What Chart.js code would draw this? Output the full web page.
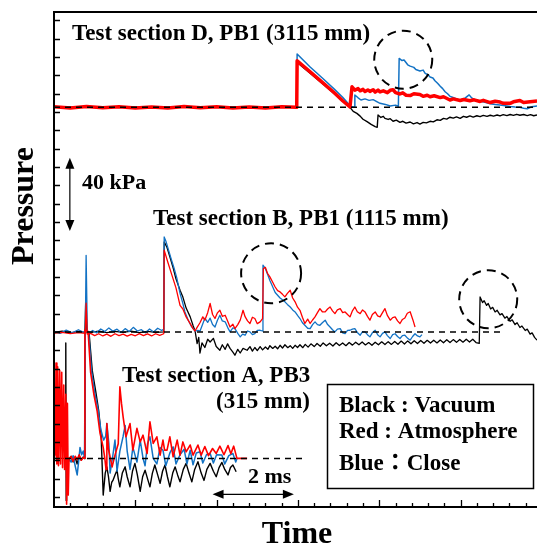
<!DOCTYPE html>
<html>
<head>
<meta charset="utf-8">
<script src="https://cdn.jsdelivr.net/npm/chart.js@4"></script>
<style>
  html, body { margin: 0; padding: 0; background: #fff; overflow: hidden; }
  canvas { display: block; }
</style>
</head>
<body>
<canvas id="pressureChart" width="537" height="546"></canvas>
<script>
// pressure traces, [time (ms), pressure rise (kPa)] relative to each section's baseline

// Test section D, PB1 (3115 mm)
const dRed = [
  [0, 0.3], [0.4, -0.3], [0.8, 0.4], [1.2, -0.2], [1.6, 0.3], [2.0, -0.4], [2.4, 0.2], [2.8, -0.3],
  [3.2, 0.4], [3.6, -0.2], [4.0, 0.3], [4.4, -0.3], [4.8, 0.2], [5.2, -0.4], [5.6, 0.3], [5.97, 0],
  [5.98, 25.4], [6.3, 19.3], [6.6, 13.6], [6.9, 7.8], [7.1, 3.6], [7.28, 0.2],
  [7.33, 11.2], [7.40, 9.4], [7.48, 10.2], [7.53, 9.0], [7.60, 9.8], [7.65, 8.6], [7.72, 9.5], [7.77, 8.7],
  [7.85, 9.6], [7.90, 8.3], [7.97, 9.4], [8.02, 8.4], [8.10, 9.0], [8.20, 8.0], [8.27, 9.3], [8.34, 9.6],
  [8.40, 8.0], [8.51, 7.3], [8.58, 7.9], [8.66, 6.6], [8.76, 6.4], [8.85, 7.4], [9.00, 7.0], [9.08, 6.0],
  [9.18, 6.6], [9.25, 5.8], [9.35, 6.3], [9.50, 5.3], [9.58, 5.8], [9.74, 4.0], [9.82, 4.6], [9.99, 3.7],
  [10.08, 4.3], [10.23, 3.6], [10.33, 4.1], [10.48, 3.2], [10.56, 3.8], [10.73, 2.6], [10.85, 3.3],
  [10.97, 2.9], [11.05, 2.2], [11.22, 2.2], [11.30, 3.0], [11.46, 3.7], [11.55, 2.6], [11.71, 3.1], [11.88, 3.4]
];
const dBlue = [
  [0, 0], [5.97, 0.2], [5.98, 29.1], [6.3, 22.0], [6.6, 16.0], [6.9, 9.8], [7.1, 5.5], [7.30, 0.5], [7.38, 0],
  [7.40, 6.7], [7.48, 5.2], [7.55, 4.0], [7.65, 4.6], [7.75, 3.8], [7.85, 4.2], [7.95, 3.0], [8.02, 2.2],
  [8.15, 1.6], [8.27, 0.7], [8.40, 1.2], [8.47, 0.6],
  [8.49, 26.7], [8.56, 25.5], [8.61, 25.8], [8.70, 23.2], [8.76, 22.5], [8.85, 21.8], [8.90, 20.6],
  [9.00, 19.8], [9.08, 20.3], [9.13, 18.5], [9.20, 17.8], [9.25, 16.5], [9.32, 16.0], [9.37, 14.5],
  [9.44, 13.0], [9.50, 11.5], [9.56, 10.2], [9.62, 8.5], [9.68, 7.4], [9.74, 6.0], [9.80, 5.5], [9.86, 5.0],
  [9.92, 4.4], [9.99, 3.8], [10.05, 4.6], [10.11, 5.0], [10.21, 6.8], [10.26, 5.5], [10.31, 4.5],
  [10.40, 3.9], [10.48, 3.3], [10.60, 2.7], [10.73, 2.0], [10.85, 1.6], [10.97, 1.3], [11.10, 0.9],
  [11.22, 0.5], [11.34, 0.2], [11.46, 0], [11.55, -0.5], [11.64, -0.8], [11.75, 0.3], [11.88, 0.8]
];
const dBlack = [
  [0, 0], [5.97, 0], [5.98, 24.5], [6.3, 18.6], [6.6, 13.0], [6.9, 7.3], [7.1, 3.3], [7.28, 0],
  [7.36, -2.2], [7.45, -3.3], [7.53, -4.8], [7.60, -6.5], [7.70, -7.8], [7.80, -9.3], [7.90, -10.5],
  [7.95, -10.9], [7.97, -4.2], [8.04, -5.5], [8.10, -4.9], [8.14, -6.0], [8.22, -6.6], [8.27, -6.2],
  [8.34, -7.6], [8.42, -7.0], [8.51, -8.2], [8.58, -7.6], [8.66, -8.6], [8.76, -8.0], [8.84, -9.0],
  [8.93, -8.3], [9.00, -9.1], [9.08, -8.2], [9.16, -8.5], [9.25, -7.6], [9.33, -7.9], [9.42, -6.8],
  [9.50, -7.1], [9.58, -6.0], [9.66, -6.4], [9.74, -5.4], [9.82, -5.9], [9.90, -5.2], [9.99, -6.0],
  [10.07, -4.9], [10.15, -5.4], [10.23, -4.7], [10.31, -5.3], [10.40, -4.6], [10.48, -5.1], [10.56, -4.4],
  [10.65, -4.9], [10.73, -4.3], [10.81, -4.8], [10.90, -4.2], [10.97, -4.7], [11.05, -4.0], [11.14, -4.5],
  [11.22, -3.9], [11.30, -4.4], [11.38, -3.8], [11.46, -4.3], [11.55, -3.9], [11.64, -4.5], [11.72, -4.0],
  [11.80, -4.6], [11.88, -4.2]
];

// Test section B, PB1 (1115 mm)
const bRed = [
  [0, -0.7], [0.2, -0.3], [0.4, -0.9], [0.6, -0.4], [0.77, -0.8], [0.79, 15.7], [0.82, -1.2],
  [0.9, -0.8], [1.0, -2.0], [1.1, -1.0], [1.2, -2.2], [1.3, -1.2], [1.4, -2.4], [1.5, -1.0], [1.6, -2.0],
  [1.7, -1.2], [1.8, -2.3], [1.9, -1.3], [2.0, -2.1], [2.1, -0.9], [2.2, -2.0], [2.3, -1.1], [2.4, -2.2],
  [2.5, -1.0], [2.6, -1.9], [2.70, -1.0],
  [2.71, 44.6], [2.80, 38], [2.90, 31], [3.00, 24], [3.10, 14.5], [3.17, 12.5], [3.25, 8.2], [3.35, 4.5],
  [3.42, 1.8], [3.47, 0.5], [3.52, 2.5], [3.59, 5.0], [3.66, 8.2], [3.71, 6.4], [3.78, 10.5], [3.84, 15.5],
  [3.90, 9.5], [3.96, 7.3], [4.02, 10.4], [4.08, 11.8], [4.14, 8.5], [4.21, 9.1], [4.27, 6.0], [4.33, 2.7],
  [4.40, 4.2], [4.45, 1.8], [4.52, 4.0], [4.58, 6.4], [4.65, 11.8], [4.70, 8.3], [4.76, 6.0], [4.82, 4.6],
  [4.88, 8.0], [4.94, 7.3], [5.00, 4.5], [5.07, 5.5], [5.13, 7.3],
  [5.15, 34.6], [5.20, 35.2], [5.25, 32.0], [5.31, 30.0], [5.37, 27.5], [5.44, 24.5], [5.50, 22.5],
  [5.56, 21.8], [5.62, 20.5], [5.68, 19.1], [5.74, 21.0], [5.81, 22.7], [5.87, 18.5], [5.93, 16.4],
  [5.99, 13.5], [6.05, 11.8], [6.11, 8.0], [6.17, 4.6], [6.24, 7.0], [6.30, 4.6], [6.36, 6.5], [6.42, 8.2],
  [6.48, 10.5], [6.54, 12.7], [6.60, 11.0], [6.67, 10.9], [6.73, 12.5], [6.79, 13.6], [6.85, 11.5],
  [6.91, 10.0], [6.97, 12.0], [7.04, 12.7], [7.10, 10.5], [7.16, 10.9], [7.22, 9.5], [7.28, 8.2],
  [7.34, 11.5], [7.40, 13.6], [7.46, 11.0], [7.53, 10.0], [7.59, 12.0], [7.65, 10.9], [7.71, 8.5],
  [7.77, 6.4], [7.83, 9.5], [7.90, 10.9], [7.96, 8.8], [8.02, 8.2], [8.08, 10.5], [8.14, 12.7], [8.20, 9.0],
  [8.27, 6.4], [8.33, 7.8], [8.39, 8.2], [8.45, 6.0], [8.51, 4.6], [8.57, 6.8], [8.63, 7.6], [8.69, 10.2],
  [8.76, 11.0], [8.83, 6.4], [8.88, 2.7]
];
const bBlue = [
  [0, 0.3], [0.15, -0.8], [0.3, 1.0], [0.45, -0.5], [0.6, 1.2], [0.74, -0.3], [0.77, 0.5], [0.79, 41.8],
  [0.82, 0], [0.84, -1.0], [0.95, 0.8], [1.05, -0.5], [1.15, 1.6], [1.25, 0.2], [1.35, 2.2], [1.45, 0.4],
  [1.55, 1.5], [1.65, -0.3], [1.75, 1.8], [1.85, 0.2], [1.95, 2.5], [2.05, 0.5], [2.15, 1.2], [2.25, -0.5],
  [2.35, 1.6], [2.45, 0], [2.55, 2.0], [2.65, 0.8], [2.70, 1.5],
  [2.71, 51.8], [2.76, 49.0], [2.82, 44.5], [2.88, 40.0], [2.95, 35.0], [3.02, 29.5], [3.10, 21.0],
  [3.17, 15.5], [3.22, 10.9], [3.30, 6.5], [3.38, 3.0], [3.47, 0.4], [3.54, 0.8], [3.59, 0.4], [3.66, 4.5],
  [3.71, 7.5], [3.78, 5.2], [3.84, 7.5], [3.90, 4.0], [3.96, 2.7], [4.02, 6.4], [4.08, 9.1], [4.14, 6.0],
  [4.21, 5.5], [4.27, 2.5], [4.33, 0], [4.40, 2.2], [4.45, 1.8], [4.52, -0.8], [4.58, -2.7], [4.64, -1.2],
  [4.70, -1.8], [4.76, 0.5], [4.82, 0], [4.88, -1.5], [4.94, -0.9], [5.00, 0.8], [5.07, 0.9], [5.13, 0.5],
  [5.14, 36.4], [5.20, 34.5], [5.26, 31.0], [5.31, 28.0], [5.37, 25.0], [5.44, 21.5], [5.50, 20.0],
  [5.56, 18.5], [5.62, 17.5], [5.68, 16.4], [5.74, 15.0], [5.81, 13.6], [5.87, 12.0], [5.93, 10.9],
  [5.99, 9.0], [6.05, 7.3], [6.11, 5.0], [6.17, 3.6], [6.24, 2.0], [6.30, 1.8], [6.36, 4.0], [6.42, 5.5],
  [6.48, 4.0], [6.54, 3.6], [6.60, 5.0], [6.67, 6.4], [6.73, 4.0], [6.79, 2.7], [6.85, 1.2], [6.91, 0],
  [6.97, 1.5], [7.04, 1.8], [7.10, -0.5], [7.16, -0.9], [7.22, 0.8], [7.28, 0.9], [7.34, 1.5], [7.40, 1.8],
  [7.46, -0.3], [7.53, -1.8], [7.59, 0.2], [7.65, 0], [7.71, -1.5], [7.77, -2.7], [7.83, -0.5], [7.90, 0.9],
  [7.96, -1.5], [8.02, -2.7], [8.08, -0.8], [8.14, 0], [8.20, -2.0], [8.27, -3.6], [8.33, -1.5], [8.39, -1.0],
  [8.45, -2.5], [8.51, -3.6], [8.57, -2.0], [8.63, -1.8], [8.70, -3.5], [8.76, -4.5], [8.82, -2.5],
  [8.88, -1.0], [8.94, -2.2], [9.00, -2.7], [9.05, -1.5]
];
const bBlack = [
  [0, -0.3], [0.2, 0.4], [0.4, -0.5], [0.6, 0.3], [0.76, -0.2], [0.78, 17], [0.81, -0.5], [0.9, -0.2],
  [1.1, 0.4], [1.3, -0.4], [1.5, 0.3], [1.7, -0.3], [1.9, 0.4], [2.1, -0.4], [2.3, 0.3], [2.5, -0.3], [2.70, 0],
  [2.71, 49.1], [2.78, 46], [2.85, 41], [2.93, 35], [3.00, 29], [3.10, 22.7], [3.17, 19.0], [3.25, 13.0],
  [3.35, 8.2], [3.42, 3.5], [3.47, 0.5], [3.52, -6.4], [3.56, -3.0], [3.59, -11.6], [3.64, -6.0],
  [3.71, -8.5], [3.78, -4.0], [3.84, -5.5], [3.92, -3.5], [3.99, -8.0], [4.08, -10.0], [4.14, -7.0],
  [4.21, -9.5], [4.27, -6.5], [4.33, -9.0], [4.40, -11.0], [4.45, -12.7], [4.52, -9.5], [4.58, -11.5],
  [4.65, -9.0], [4.75, -10.0], [4.82, -8.0], [4.88, -10.5], [4.94, -8.5], [5.00, -10.2], [5.07, -8.0],
  [5.13, -9.8], [5.20, -8.2], [5.26, -9.5], [5.31, -7.5], [5.38, -9.0], [5.44, -7.8], [5.50, -9.2],
  [5.56, -7.3], [5.62, -8.8], [5.68, -7.0], [5.75, -8.6], [5.81, -7.5], [5.87, -9.0], [5.93, -7.3],
  [5.99, -8.5], [6.05, -7.0], [6.12, -8.6], [6.18, -6.8], [6.25, -8.3], [6.32, -6.5], [6.40, -8.0],
  [6.47, -6.3], [6.55, -7.8], [6.62, -6.0], [6.70, -7.6], [6.78, -6.2], [6.86, -7.7], [6.94, -5.9],
  [7.02, -7.4], [7.10, -6.0], [7.18, -7.5], [7.26, -5.8], [7.34, -7.2], [7.42, -5.6], [7.50, -7.0],
  [7.58, -5.5], [7.66, -7.1], [7.74, -5.8], [7.82, -7.3], [7.90, -5.6], [7.98, -7.0], [8.06, -5.4],
  [8.14, -6.9], [8.22, -5.3], [8.30, -6.8], [8.38, -5.2], [8.46, -6.7], [8.54, -5.0], [8.62, -6.6],
  [8.70, -4.9], [8.78, -6.5], [8.86, -4.8], [8.94, -6.3], [9.02, -4.7], [9.10, -6.2], [9.18, -4.6],
  [9.26, -6.1], [9.34, -4.5], [9.42, -6.0], [9.50, -4.4], [9.58, -5.9], [9.66, -4.3], [9.74, -5.8],
  [9.82, -4.2], [9.90, -5.7], [9.98, -4.1], [10.06, -5.6], [10.14, -4.0], [10.22, -5.5], [10.30, -4.0],
  [10.38, -5.8], [10.46, -6.2],
  [10.48, 19.1], [10.54, 16.0], [10.58, 17.0], [10.64, 14.5], [10.68, 15.5], [10.74, 12.5], [10.79, 13.4],
  [10.85, 10.9], [10.90, 11.8], [10.97, 9.3], [11.02, 10.0], [11.09, 7.5], [11.14, 8.4], [11.22, 5.8],
  [11.27, 6.6], [11.34, 4.0], [11.39, 5.0], [11.46, 2.4], [11.51, 3.2], [11.59, 0.8], [11.64, 1.5],
  [11.71, -1.2], [11.76, -0.5], [11.82, -3.0], [11.88, -4.5]
];

// Test section A, PB3 (315 mm)
const aRed = [
  [0, 0], [0.03, 2], [0.05, 52], [0.07, -3], [0.09, 50], [0.11, -4], [0.14, 48], [0.16, -3], [0.19, 47],
  [0.21, -5], [0.24, 40], [0.26, -6], [0.29, 35], [0.31, -25], [0.33, 30], [0.35, -20], [0.37, 0],
  [0.42, 1.0], [0.47, -1.5], [0.52, 1.2], [0.57, -0.5], [0.62, 2.0], [0.67, -1.0], [0.72, 0.5], [0.75, 0],
  [0.76, 70], [0.84, 69], [0.90, 47], [0.98, 35], [1.06, 26], [1.13, 14], [1.21, 6], [1.25, 0], [1.28, -6],
  [1.30, 19], [1.34, 5], [1.43, -4.6], [1.50, 1.8], [1.58, 8], [1.62, 39], [1.66, 30], [1.70, 22.7],
  [1.77, 11.8], [1.87, 19], [1.94, 4.5], [2.04, 16.4], [2.12, 9], [2.19, 12.7], [2.29, 2.7], [2.36, 20],
  [2.44, 8.2], [2.53, 11.8], [2.61, 1.8], [2.68, 10], [2.72, 4.5], [2.78, 4.5], [2.85, 11.8], [2.93, 0.9],
  [3.03, 10], [3.10, 1.8], [3.17, 9], [3.25, 3.6], [3.35, 7.3], [3.42, 1.8], [3.54, 7.3], [3.62, 1.8],
  [3.71, 6.5], [3.80, 1.5], [3.90, 5.4], [3.99, 2.7], [4.08, 6.7], [4.18, 2.0], [4.28, 7.0], [4.35, 2.5],
  [4.42, 6.7], [4.50, 0], [4.75, 0]
];
const aBlue = [
  [0.35, 0], [0.42, -2], [0.47, 1.5], [0.52, -4], [0.57, -9], [0.60, -3], [0.64, 6], [0.68, 2], [0.72, 4],
  [0.75, 0], [0.77, 70], [0.85, 69], [0.92, 48], [1.00, 36], [1.08, 27], [1.15, 16], [1.22, 10], [1.27, 12],
  [1.30, 19], [1.35, 8], [1.38, -8], [1.45, 2], [1.50, 10], [1.55, -7], [1.62, 4], [1.70, 12], [1.75, 18],
  [1.80, 4], [1.87, -6], [1.94, 6], [2.04, -2], [2.12, 10], [2.19, 0], [2.24, -4], [2.30, 8], [2.36, 11.8],
  [2.44, 0], [2.53, -3], [2.61, 6], [2.68, 4.5], [2.75, -4], [2.85, 3], [2.93, 6.3], [3.00, -3], [3.10, 2],
  [3.20, 5], [3.27, -3], [3.35, 4.5], [3.42, -3.5], [3.50, 3], [3.59, 3.6], [3.66, -2.5], [3.75, 2],
  [3.84, 2.7], [3.92, -2.5], [4.00, 2], [4.13, 1.8], [4.20, -3], [4.30, 1.5], [4.40, 2.7], [4.47, -2], [4.50, 0]
];
const aBlack = [
  [0, 0], [0.28, 0], [0.29, 63], [0.30, -23], [0.31, 0], [0.36, -1.5], [0.42, 1.2], [0.47, -2], [0.52, 0.5],
  [0.57, -3], [0.62, 1.5], [0.67, -1], [0.72, 0.8], [0.76, 0], [0.77, 70], [0.86, 69], [0.94, 48],
  [1.03, 36], [1.10, 26], [1.16, 12], [1.21, -20], [1.26, -8], [1.30, -4.6], [1.34, -10], [1.38, -18],
  [1.42, -13], [1.45, -12], [1.50, -9], [1.55, -6.4], [1.58, -11], [1.62, -15.5], [1.68, -8], [1.75, -4.6],
  [1.80, -10], [1.87, -15.5], [1.93, -7], [1.99, -2.7], [2.05, -9], [2.12, -18], [2.18, -10], [2.24, -6.4],
  [2.30, -11], [2.36, -15.5], [2.42, -8], [2.48, -3.6], [2.55, -9], [2.61, -13.6], [2.67, -7], [2.73, -3.6],
  [2.79, -10], [2.85, -15.5], [2.92, -8], [2.98, -4.6], [3.04, -9], [3.10, -12.8], [3.18, -6], [3.25, -2.7],
  [3.32, -8], [3.39, -12.8], [3.46, -6], [3.54, -1.8], [3.62, -8], [3.69, -12], [3.76, -6], [3.84, -2.7],
  [3.92, -7], [3.99, -10], [4.06, -5], [4.13, -2.2], [4.20, -6], [4.28, -9], [4.34, -5], [4.40, -3.6],
  [4.48, -7.3]
];

// section baselines (kPa on the shared axis) and where each dashed reference line ends (ms)
const sectionOffsets = [212.5, 90, 21];
const baselineEnds = [11.88, 10.97, 6.1];

const RED = '#ff0000';
const BLUE = '#1272c4';
const BLACK = '#000000';
const SERIF = '"Liberation Serif", "Noto Sans CJK JP", serif';

const trace = (pairs, offset, color, width) => ({
  data: pairs.map(([t, p]) => ({ x: t, y: p + offset })),
  borderColor: color,
  borderWidth: width,
  pointRadius: 0,
  borderJoinStyle: 'round',
  fill: false,
});

const baseline = (offset, end) => ({
  data: [{ x: 0, y: offset }, { x: end, y: offset }],
  borderColor: BLACK,
  borderWidth: 1.5,
  borderDash: [6, 5],
  pointRadius: 0,
});

const [offD, offB, offA] = sectionOffsets;

// first dataset is painted last, so dashed baselines sit on top, then red, blue, black
const datasets = [
  baseline(offD, baselineEnds[0]),
  baseline(offB, baselineEnds[1]),
  baseline(offA, baselineEnds[2]),
  trace(dRed, offD, RED, 3.5),
  trace(bRed, offB, RED, 1.3),
  trace(aRed, offA, RED, 1.6),
  trace(dBlue, offD, BLUE, 1.5),
  trace(bBlue, offB, BLUE, 1.3),
  trace(aBlue, offA, BLUE, 1.5),
  trace(dBlack, offD, BLACK, 1.4),
  trace(bBlack, offB, BLACK, 1.3),
  trace(aBlack, offA, BLACK, 1.4),
];

function arrowHead(ctx, x, y, angle) {
  ctx.save();
  ctx.translate(x, y);
  ctx.rotate(angle);
  ctx.beginPath();
  ctx.moveTo(0, 0);
  ctx.lineTo(-11, -4.5);
  ctx.lineTo(-11, 4.5);
  ctx.closePath();
  ctx.fill();
  ctx.restore();
}

function dashedCircle(ctx, cx, cy, r) {
  ctx.save();
  ctx.setLineDash([9, 6]);
  ctx.lineWidth = 2;
  ctx.strokeStyle = BLACK;
  ctx.beginPath();
  ctx.arc(cx, cy, r, 0, Math.PI * 2);
  ctx.stroke();
  ctx.restore();
}

const decorations = {
  id: 'decorations',
  afterDatasetsDraw(chart) {
    const { ctx, chartArea: area, scales: { x, y } } = chart;
    ctx.save();
    ctx.fillStyle = BLACK;
    ctx.strokeStyle = BLACK;

    // frame: left, bottom and top lines
    ctx.lineWidth = 2;
    ctx.beginPath();
    ctx.moveTo(area.right, area.top);
    ctx.lineTo(area.left, area.top);
    ctx.lineTo(area.left, area.bottom);
    ctx.lineTo(area.right, area.bottom);
    ctx.stroke();

    // inward ticks
    ctx.lineWidth = 1.3;
    ctx.beginPath();
    for (let v = 0; v <= 260; v += 10) {
      const py = Math.round(y.getPixelForValue(v)) + 0.5;
      ctx.moveTo(area.left, py);
      ctx.lineTo(area.left + 6, py);
    }
    for (let k = 1; k * 0.4 <= x.max; k++) {
      const px = Math.round(x.getPixelForValue(k * 0.4)) + 0.5;
      ctx.moveTo(px, area.bottom);
      ctx.lineTo(px, area.bottom - (k % 5 === 0 ? 7 : 4));
    }
    ctx.stroke();

    // highlighted reflections
    const circles = [[8.59, 238.5, 29], [5.34, 122.0, 30], [10.68, 107.8, 29]];
    circles.forEach(([t, p, r]) => dashedCircle(ctx, x.getPixelForValue(t), y.getPixelForValue(p), r));

    // 40 kPa scale arrow
    ctx.lineWidth = 1.2;
    const ax = x.getPixelForValue(0.39);
    const top = y.getPixelForValue(185);
    const bot = y.getPixelForValue(145);
    ctx.beginPath();
    ctx.moveTo(ax, top + 6);
    ctx.lineTo(ax, bot - 6);
    ctx.stroke();
    arrowHead(ctx, ax, top, -Math.PI / 2);
    arrowHead(ctx, ax, bot, Math.PI / 2);

    // 2 ms scale arrow
    const ay = y.getPixelForValue(1.4);
    const left = x.getPixelForValue(3.9);
    const right = x.getPixelForValue(5.9);
    ctx.beginPath();
    ctx.moveTo(left + 6, ay);
    ctx.lineTo(right - 6, ay);
    ctx.stroke();
    arrowHead(ctx, left, ay, Math.PI);
    arrowHead(ctx, right, ay, 0);

    // section labels
    ctx.textBaseline = 'alphabetic';
    ctx.textAlign = 'left';
    ctx.font = `bold 23px ${SERIF}`;
    ctx.fillText('Test section D, PB1 (3115 mm)', 72, 40);
    ctx.fillText('Test section B, PB1 (1115 mm)', 153, 225);
    ctx.fillText('Test section A, PB3', 122, 382);
    ctx.textAlign = 'right';
    ctx.fillText('(315 mm)', 310, 408);

    // scale labels
    ctx.textAlign = 'left';
    ctx.font = `bold 22px ${SERIF}`;
    ctx.fillText('40 kPa', 82, 189);
    ctx.fillText('2 ms', 248, 483);

    // key box
    ctx.lineWidth = 1.5;
    ctx.strokeRect(327.5, 384.5, 206, 104);
    ctx.font = `bold 23px ${SERIF}`;
    ctx.fillText('Black : Vacuum', 339, 412);
    ctx.fillText('Red : Atmosphere', 339, 438);
    ctx.fillText('Blue：Close', 339, 470);

    // axis titles
    ctx.font = `bold 32px ${SERIF}`;
    ctx.textAlign = 'center';
    ctx.fillText('Time', 297, 543);
    ctx.translate(33, 206);
    ctx.rotate(-Math.PI / 2);
    ctx.fillText('Pressure', 0, 0);
    ctx.restore();
  }
};

new Chart(document.getElementById('pressureChart').getContext('2d'), {
  type: 'line',
  data: { datasets },
  options: {
    responsive: false,
    animation: false,
    layout: { padding: { left: 54, top: 12, right: 0, bottom: 39 } },
    scales: {
      x: { type: 'linear', min: 0, max: 11.88, display: false },
      y: { type: 'linear', min: -5.5, max: 264.5, display: false },
    },
    elements: { line: { tension: 0 } },
    plugins: { legend: { display: false }, tooltip: { enabled: false } },
  },
  plugins: [decorations],
});
</script>
</body>
</html>
